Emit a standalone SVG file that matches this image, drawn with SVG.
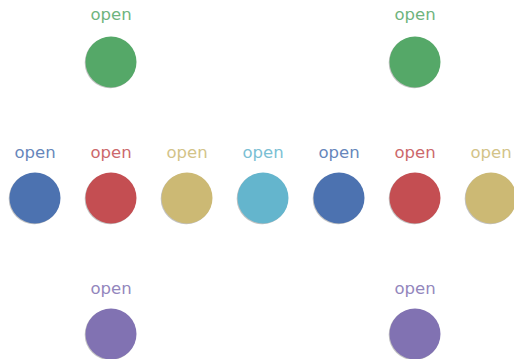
<svg xmlns="http://www.w3.org/2000/svg" width="514" height="359" viewBox="0 0 514 359">
<style>
text{font-family:"DejaVu Sans",sans-serif;font-size:16.5px;text-anchor:middle;opacity:0.85}
.sh{fill:#999;opacity:0.6}
.g{fill:#55a868}.b{fill:#4c72b0}.r{fill:#c44e52}.y{fill:#ccb974}.c{fill:#64b5cd}.p{fill:#8172b2}
</style>
<defs>
<g id="dot"><circle class="sh" cx="-0.8" cy="0.8" r="25.5"/></g>
</defs>
<g id="n1"><use href="#dot" x="111" y="62"/><circle class="g" cx="111" cy="62" r="25.5"/><text class="g" x="111" y="20">open</text></g>
<g id="n2"><use href="#dot" x="415" y="62"/><circle class="g" cx="415" cy="62" r="25.5"/><text class="g" x="415" y="20">open</text></g>
<g id="n3"><use href="#dot" x="35" y="198"/><circle class="b" cx="35" cy="198" r="25.5"/><text class="b" x="35" y="158">open</text></g>
<g id="n4"><use href="#dot" x="111" y="198"/><circle class="r" cx="111" cy="198" r="25.5"/><text class="r" x="111" y="158">open</text></g>
<g id="n5"><use href="#dot" x="187" y="198"/><circle class="y" cx="187" cy="198" r="25.5"/><text class="y" x="187" y="158">open</text></g>
<g id="n6"><use href="#dot" x="263" y="198"/><circle class="c" cx="263" cy="198" r="25.5"/><text class="c" x="263" y="158">open</text></g>
<g id="n7"><use href="#dot" x="339" y="198"/><circle class="b" cx="339" cy="198" r="25.5"/><text class="b" x="339" y="158">open</text></g>
<g id="n8"><use href="#dot" x="415" y="198"/><circle class="r" cx="415" cy="198" r="25.5"/><text class="r" x="415" y="158">open</text></g>
<g id="n9"><use href="#dot" x="491" y="198"/><circle class="y" cx="491" cy="198" r="25.5"/><text class="y" x="491" y="158">open</text></g>
<g id="n10"><use href="#dot" x="111" y="334"/><circle class="p" cx="111" cy="334" r="25.5"/><text class="p" x="111" y="294">open</text></g>
<g id="n11"><use href="#dot" x="415" y="334"/><circle class="p" cx="415" cy="334" r="25.5"/><text class="p" x="415" y="294">open</text></g>
<g id="connectors"></g>
</svg>
